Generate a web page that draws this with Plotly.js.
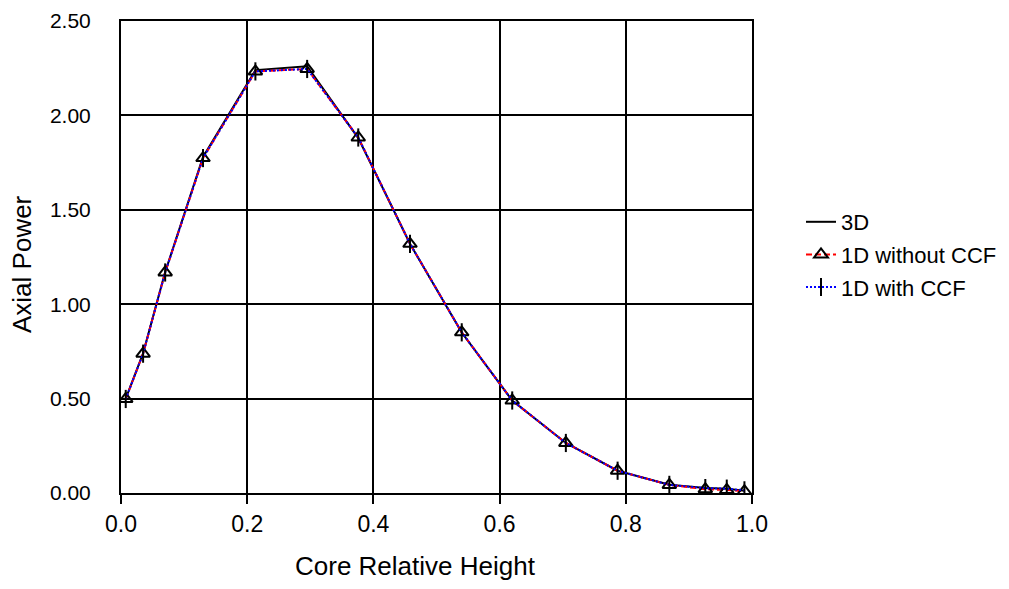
<!DOCTYPE html>
<html>
<head>
<meta charset="utf-8">
<script src="https://cdn.plot.ly/plotly-3.0.1.min.js"></script>
<style>
  html, body { margin: 0; padding: 0; background: #ffffff; }
  #chart { width: 1009px; height: 589px; }
</style>
</head>
<body>
<div id="chart"></div>
<script>
// Core relative height (node positions)
const heights = [0.0075, 0.035, 0.070, 0.130, 0.213, 0.295, 0.376, 0.458, 0.540, 0.620, 0.705, 0.787, 0.869, 0.926, 0.960, 0.988];
// Axial power, 3D reference
const power3D = [0.50, 0.74, 1.17, 1.78, 2.24, 2.26, 1.88, 1.32, 0.85, 0.49, 0.265, 0.118, 0.044, 0.026, 0.022, 0.012];
// Axial power, 1D without CCF
const power1DnoCCF = [0.498, 0.738, 1.168, 1.774, 2.233, 2.246, 1.883, 1.32, 0.851, 0.49, 0.265, 0.118, 0.043, 0.020, 0.016, 0.010];
// Axial power, 1D with CCF
const power1DCCF = [0.498, 0.738, 1.168, 1.774, 2.233, 2.246, 1.883, 1.32, 0.851, 0.49, 0.265, 0.118, 0.043, 0.026, 0.023, 0.014];

const seriesNames = ['3D', '1D without CCF', '1D with CCF'];
const xTicks = [0, 0.2, 0.4, 0.6, 0.8, 1.0];
const yTicks = [0, 0.5, 1.0, 1.5, 2.0, 2.5];
const xTitle = 'Core Relative Height';
const yTitle = 'Axial Power';

const FONT = 'Liberation Sans, Arial, sans-serif';

const traces = [
  {
    x: heights, y: power3D, name: seriesNames[0], mode: 'lines',
    line: { color: '#000000', width: 2 }, legendgroup: 'a'
  },
  {
    x: heights, y: power1DnoCCF, name: seriesNames[1], mode: 'lines+markers',
    line: { color: '#ff0000', width: 2, dash: '6px,3px' },
    marker: { symbol: 'triangle-up-open', size: 12, color: '#000000', line: { color: '#000000', width: 2 } },
    legendgroup: 'b'
  },
  {
    x: heights, y: power1DCCF, name: seriesNames[2], mode: 'lines+markers',
    line: { color: '#0000ff', width: 2, dash: '2px,2px' },
    marker: { symbol: 'line-ns-open', size: 13, color: '#000000', line: { color: '#000000', width: 2 } },
    legendgroup: 'c'
  }
];

const layout = {
  width: 1009, height: 589,
  paper_bgcolor: '#ffffff', plot_bgcolor: '#ffffff',
  margin: { l: 121, r: 257, t: 21, b: 96 },
  font: { family: FONT, color: '#000000' },
  showlegend: true,
  legend: {
    xref: 'container', yref: 'container',
    x: 801 / 1009, xanchor: 'left', y: 1 - 201 / 589, yanchor: 'top',
    font: { family: FONT, size: 22, color: '#000000' },
    bgcolor: 'rgba(0,0,0,0)', borderwidth: 0,
    tracegroupgap: 1, traceorder: 'grouped'
  },
  xaxis: {
    range: [0, 1], tickvals: xTicks, tickformat: '.1f',
    showgrid: true, gridcolor: '#000000', gridwidth: 2,
    showline: true, linecolor: '#000000', linewidth: 2, mirror: true,
    ticks: 'outside', ticklen: 9, tickwidth: 2, tickcolor: '#000000',
    zeroline: false,
    tickfont: { family: FONT, size: 23, color: '#000000' }
  },
  yaxis: {
    range: [0, 2.5], tickvals: yTicks, tickformat: '.2f',
    showgrid: true, gridcolor: '#000000', gridwidth: 2,
    showline: true, linecolor: '#000000', linewidth: 2, mirror: true,
    ticks: '', zeroline: true, zerolinecolor: '#000000', zerolinewidth: 4,
    ticklabelstandoff: 24,
    tickfont: { family: FONT, size: 21, color: '#000000' }
  },
  annotations: [
    {
      text: xTitle, xref: 'paper', yref: 'paper',
      x: (415 - 121) / 631, y: -(566 - 493) / 472, xanchor: 'center', yanchor: 'middle',
      showarrow: false, font: { family: FONT, size: 26, color: '#000000' }
    },
    {
      text: yTitle, xref: 'paper', yref: 'paper', textangle: -90,
      x: -(121 - 22) / 631, y: (493 - 264) / 472, xanchor: 'center', yanchor: 'middle',
      showarrow: false, font: { family: FONT, size: 26, color: '#000000' }
    }
  ]
};

Plotly.newPlot('chart', traces, layout, { displayModeBar: false, staticPlot: true });
</script>
</body>
</html>
